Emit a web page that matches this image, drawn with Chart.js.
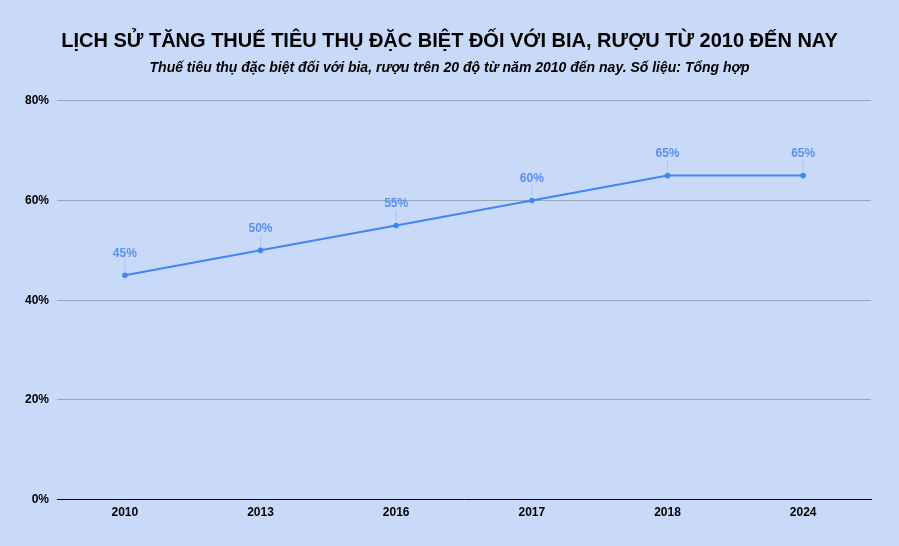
<!DOCTYPE html>
<html>
<head>
<meta charset="utf-8">
<script src="https://cdn.jsdelivr.net/npm/chart.js@4"></script>
<style>
  html, body { margin: 0; padding: 0; background: #c9daf8; }
  #wrap { width: 899px; height: 546px; }
</style>
</head>
<body>
<div id="wrap"><canvas id="myChart" width="899" height="546"></canvas></div>
<script>
const years = ['2010', '2013', '2016', '2017', '2018', '2024'];
const taxRates = [45, 50, 55, 60, 65, 65];
const yTicks = [0, 20, 40, 60, 80];

const fontFamily = '"Liberation Sans", Arial, sans-serif';

// labels above each point, with a thin leader line
const pointLabels = {
    id: 'pointLabels',
    afterDatasetsDraw(chart) {
        const ctx = chart.ctx;
        const meta = chart.getDatasetMeta(0);
        ctx.save();
        meta.data.forEach((pt, i) => {
            ctx.strokeStyle = 'rgba(66, 133, 244, 0.25)';
            ctx.lineWidth = 1;
            ctx.beginPath();
            ctx.moveTo(pt.x, pt.y - 4);
            ctx.lineTo(pt.x, pt.y - 15);
            ctx.stroke();
            ctx.fillStyle = '#5b8ff2';
            ctx.font = 'bold 12px ' + fontFamily;
            ctx.textAlign = 'center';
            ctx.textBaseline = 'middle';
            ctx.fillText(taxRates[i] + '%', pt.x, pt.y - 22);
        });
        ctx.restore();
    }
};

const ctx = document.getElementById('myChart').getContext('2d');
new Chart(ctx, {
    type: 'line',
    data: {
        labels: years,
        datasets: [{
            data: taxRates,
            borderColor: '#4285f4',
            backgroundColor: '#4285f4',
            borderWidth: 2,
            pointRadius: 1.8,
            pointHoverRadius: 1.8,
            fill: false,
            tension: 0
        }]
    },
    plugins: [pointLabels],
    options: {
        responsive: false,
        animation: false,
        layout: { padding: { left: 17, right: 17, bottom: 20 } },
        plugins: {
            legend: { display: false },
            tooltip: { enabled: false },
            title: {
                display: true,
                text: 'LỊCH SỬ TĂNG THUẾ TIÊU THỤ ĐẶC BIỆT ĐỐI VỚI BIA, RƯỢU TỪ 2010 ĐẾN NAY',
                color: '#000',
                font: { family: fontFamily, size: 20, weight: 'bold' },
                padding: { top: 29, bottom: 6 }
            },
            subtitle: {
                display: true,
                text: 'Thuế tiêu thụ đặc biệt đối với bia, rượu trên 20 độ từ năm 2010 đến nay. Số liệu: Tổng hợp',
                color: '#000',
                font: { family: fontFamily, size: 14, weight: 'bold', style: 'italic' },
                padding: { top: 1, bottom: 24 }
            }
        },
        scales: {
            x: {
                offset: true,
                grid: { display: false, drawTicks: false },
                border: { color: '#000', width: 1 },
                ticks: {
                    color: '#000',
                    font: { family: fontFamily, size: 12, weight: 'bold' },
                    padding: 6
                }
            },
            y: {
                min: yTicks[0],
                max: yTicks[yTicks.length - 1],
                afterBuildTicks(axis) {
                    axis.ticks = yTicks.map(v => ({ value: v }));
                },
                grid: { color: '#9aa5b8', drawTicks: false },
                border: { display: false },
                ticks: {
                    color: '#000',
                    font: { family: fontFamily, size: 12, weight: 'bold' },
                    padding: 8,
                    callback: v => v + '%'
                }
            },
            // empty right gutter so the titles stay centred on the canvas
            yRight: {
                position: 'right',
                grid: { display: false, drawTicks: false },
                border: { display: false },
                ticks: { display: false },
                afterFit(axis) { axis.width = 11; }
            }
        }
    }
});
</script>
</body>
</html>
